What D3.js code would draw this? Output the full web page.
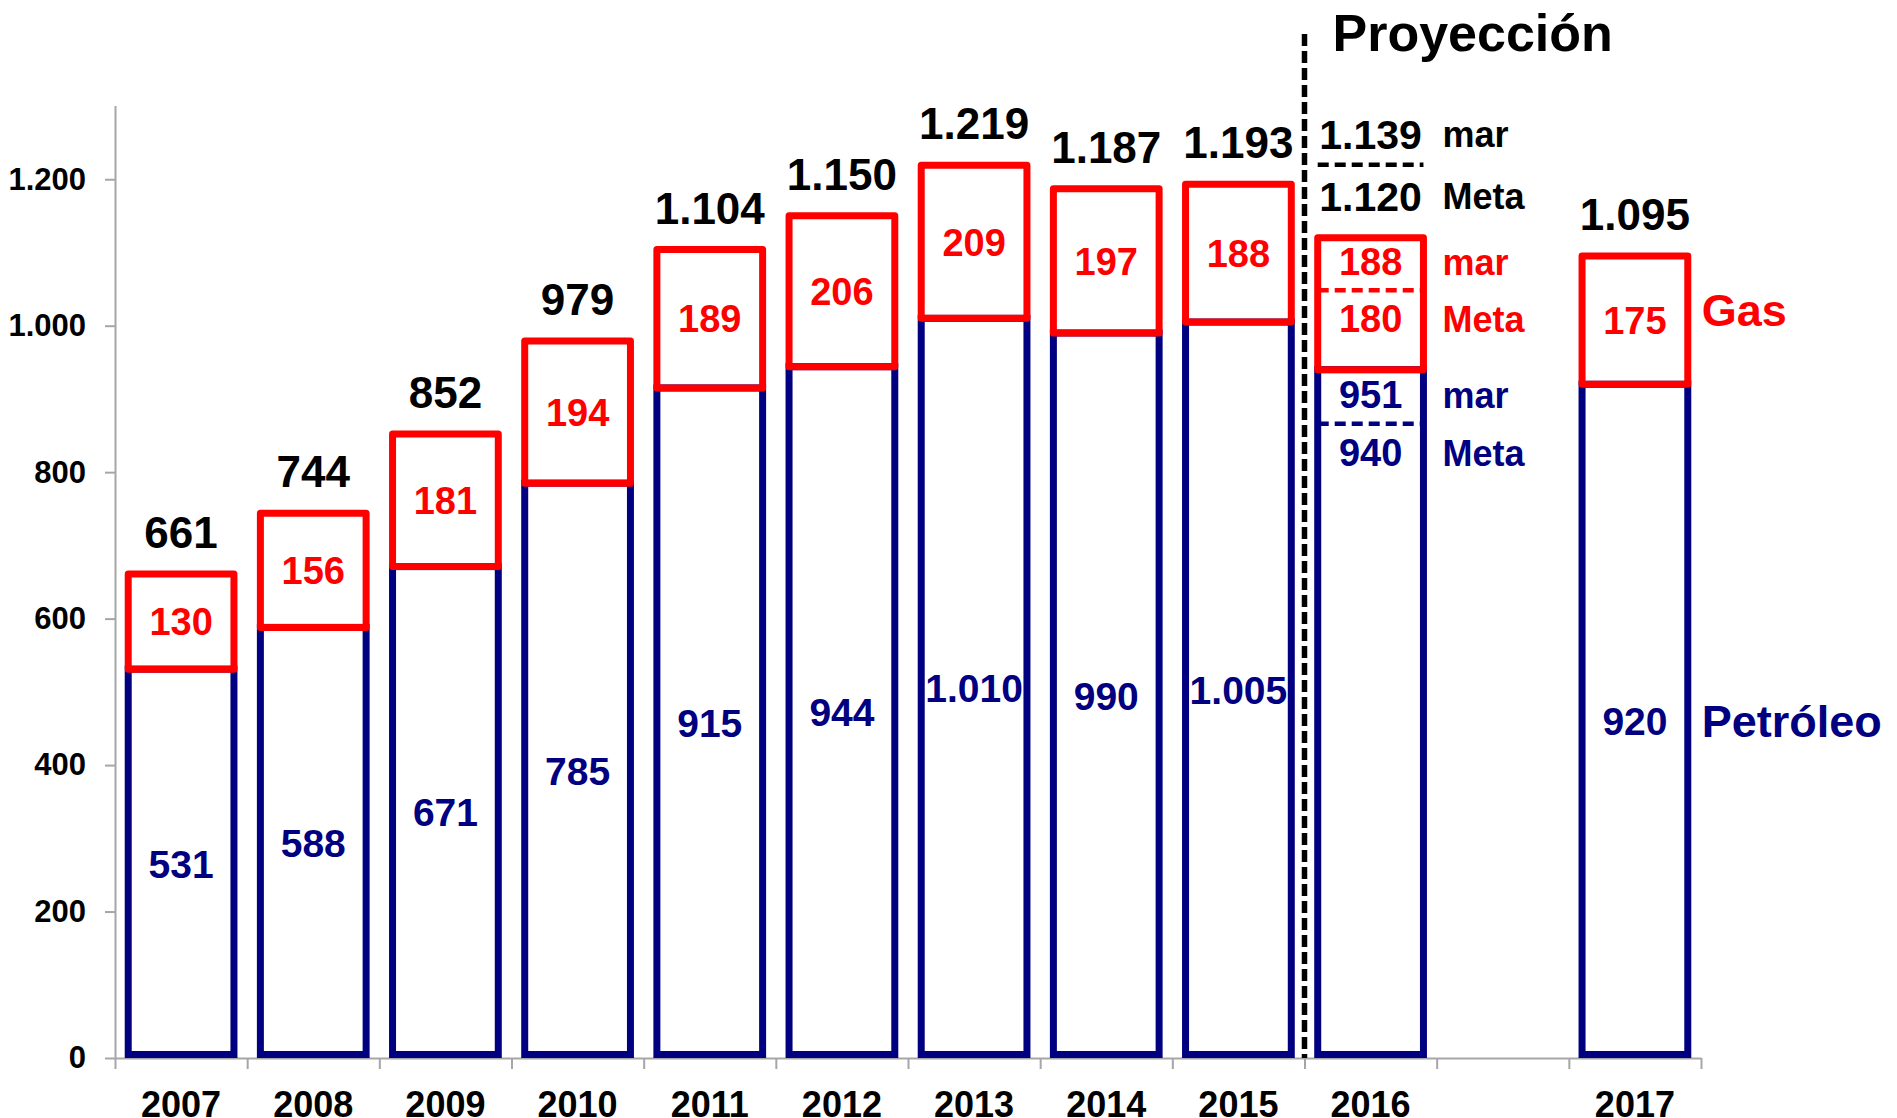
<!DOCTYPE html>
<html>
<head>
<meta charset="utf-8">
<script src="https://cdn.jsdelivr.net/npm/d3@7"></script>
<style>
  body { margin: 0; background: #fff; }
  text { font-family: "Liberation Sans", Arial, sans-serif; font-weight: bold; }
</style>
</head>
<body>
<script>
// x slots (one empty slot between 2016 and 2017)
const slots = ['2007', '2008', '2009', '2010', '2011', '2012', '2013', '2014', '2015', '2016', '', '2017']
const years = ['2007', '2008', '2009', '2010', '2011', '2012', '2013', '2014', '2015', '2016', '2017']
const oil = [531, 588, 671, 785, 915, 944, 1010, 990, 1005, 940, 920]
const gas = [130, 156, 181, 194, 189, 206, 209, 197, 188, 180, 175]
const totals = [661, 744, 852, 979, 1104, 1150, 1219, 1187, 1193, 1120, 1095]
const yTicks = [0, 200, 400, 600, 800, 1000, 1200]

// 2016 projection: march estimate vs target
const projYear = '2016'
const projRows = ['mar', 'Meta']
const projTotal = [1139, 1120]
const projGas = [188, 180]
const projOil = [951, 940]

const width = 1897
const height = 1118
const margin = { top: 106, right: 196, bottom: 60, left: 115 }
const NAVY = '#000080'
const RED = '#ff0000'
const SW = 7

const fmt = d3.formatLocale({ decimal: ',', thousands: '.', grouping: [3], currency: ['', ''] }).format(',d')

const data = years.map((y, i) => ({ year: y, oil: oil[i], gas: gas[i], total: totals[i] }))

const x = d3
  .scaleBand()
  .domain(slots)
  .range([margin.left, width - margin.right])
  .paddingInner(0.2)
  .paddingOuter(0.1)

// linear helper for tick marks at the category boundaries
const xEdge = d3
  .scaleLinear()
  .domain([0, slots.length])
  .range([margin.left, width - margin.right])

const y = d3
  .scaleLinear()
  .domain([0, 1300])
  .range([height - margin.bottom, margin.top])

const svg = d3
  .select('body')
  .append('svg')
  .attr('width', width)
  .attr('height', height)

// axes
svg
  .append('g')
  .attr('transform', `translate(${margin.left},0)`)
  .call(d3.axisLeft(y).tickValues(yTicks).tickFormat(fmt).tickSize(10).tickPadding(19).tickSizeOuter(0))
  .call(g => g.selectAll('path,line').attr('stroke', '#a6a6a6').attr('stroke-width', 2))
  .call(g => g.selectAll('text').attr('font-size', 31).attr('fill', '#000').attr('font-family', null))
  .call(g => g.select('.domain').attr('d', `M0.5,${y(1300)}V${y(0)}`))

svg
  .append('g')
  .attr('transform', `translate(0,${y(0)})`)
  .call(d3.axisBottom(xEdge).ticks(slots.length).tickFormat('').tickSize(11).tickSizeOuter(0))
  .call(g => g.selectAll('path,line').attr('stroke', '#a6a6a6').attr('stroke-width', 2))

svg
  .append('g')
  .attr('transform', `translate(0,${y(0)})`)
  .call(d3.axisBottom(x).tickSize(0).tickPadding(33))
  .call(g => g.select('.domain').remove())
  .call(g => g.selectAll('text').attr('font-size', 36).attr('fill', '#000').attr('font-family', null))

// projection divider
svg
  .append('line')
  .attr('x1', xEdge(slots.indexOf(projYear)))
  .attr('x2', xEdge(slots.indexOf(projYear)))
  .attr('y1', 34)
  .attr('y2', y(0))
  .attr('stroke', '#000')
  .attr('stroke-width', 5.5)
  .attr('stroke-dasharray', '12 5')

svg
  .append('text')
  .attr('x', xEdge(slots.indexOf(projYear)) + 28)
  .attr('y', 51)
  .attr('font-size', 52)
  .text('Proyección')

// bars
const bars = svg.append('g').selectAll('g').data(data).join('g')

bars
  .append('rect')
  .attr('x', d => x(d.year))
  .attr('width', x.bandwidth())
  .attr('y', d => y(d.oil))
  .attr('height', d => y(0) - y(d.oil) - SW / 2)
  .attr('fill', 'none')
  .attr('stroke', NAVY)
  .attr('stroke-width', SW)

bars
  .append('rect')
  .attr('x', d => x(d.year))
  .attr('width', x.bandwidth())
  .attr('y', d => y(d.total))
  .attr('height', d => y(d.oil) - y(d.total))
  .attr('fill', 'none')
  .attr('stroke', RED)
  .attr('stroke-width', SW)
  .attr('stroke-linejoin', 'round')

// value labels (2016 handled separately)
const regular = data.filter(d => d.year !== projYear)
const cx = d => x(d.year) + x.bandwidth() / 2

svg
  .append('g')
  .selectAll('text')
  .data(regular)
  .join('text')
  .attr('x', cx)
  .attr('y', d => y(d.total) - 26)
  .attr('text-anchor', 'middle')
  .attr('font-size', 44)
  .attr('fill', '#000')
  .text(d => fmt(d.total))

svg
  .append('g')
  .selectAll('text')
  .data(regular)
  .join('text')
  .attr('x', cx)
  .attr('y', d => (y(d.total) + y(d.oil)) / 2)
  .attr('dy', '0.36em')
  .attr('text-anchor', 'middle')
  .attr('font-size', 38)
  .attr('fill', RED)
  .text(d => fmt(d.gas))

svg
  .append('g')
  .selectAll('text')
  .data(regular)
  .join('text')
  .attr('x', cx)
  .attr('y', d => (y(d.oil) + y(0)) / 2)
  .attr('dy', '0.36em')
  .attr('text-anchor', 'middle')
  .attr('font-size', 39)
  .attr('fill', NAVY)
  .text(d => fmt(d.oil))

// 2016 projection labels: two rows per series, separated by dashed lines
const p = data.find(d => d.year === projYear)
const px0 = x(projYear)
const px1 = x(projYear) + x.bandwidth()
const pcx = px0 + x.bandwidth() / 2
const sideX = px1 + 19

const groups = [
  { vals: projTotal, color: '#000', size: 41, y0: y(p.total) - 42 - 62, gap: 62 },
  { vals: projGas, color: RED, size: 38, y0: y(p.total) + 24, gap: 57 },
  { vals: projOil, color: NAVY, size: 38, y0: y(p.oil) + 25, gap: 58 },
]

groups.forEach(gr => {
  const g = svg.append('g')
  gr.vals.forEach((v, i) => {
    const ty = gr.y0 + i * gr.gap
    g.append('text')
      .attr('x', pcx)
      .attr('y', ty)
      .attr('dy', '0.36em')
      .attr('text-anchor', 'middle')
      .attr('font-size', gr.size)
      .attr('fill', gr.color)
      .text(fmt(v))
    g.append('text')
      .attr('x', sideX)
      .attr('y', ty)
      .attr('dy', '0.36em')
      .attr('font-size', 36)
      .attr('fill', gr.color)
      .text(projRows[i])
  })
  const sy = gr.y0 + gr.gap / 2
  g.append('line')
    .attr('x1', px0)
    .attr('x2', px1)
    .attr('y1', sy)
    .attr('y2', sy)
    .attr('stroke', gr.color)
    .attr('stroke-width', 4.5)
    .attr('stroke-dasharray', '11 6')
})

// series names beside the last bar
const last = data[data.length - 1]
const lx = x(last.year) + x.bandwidth() + 14
svg
  .append('text')
  .attr('x', lx)
  .attr('y', (y(last.total) + y(last.oil)) / 2 - 10)
  .attr('dy', '0.36em')
  .attr('font-size', 45)
  .attr('fill', RED)
  .text('Gas')
svg
  .append('text')
  .attr('x', lx)
  .attr('y', (y(last.oil) + y(0)) / 2)
  .attr('dy', '0.36em')
  .attr('font-size', 45)
  .attr('fill', NAVY)
  .text('Petróleo')
</script>
</body>
</html>
